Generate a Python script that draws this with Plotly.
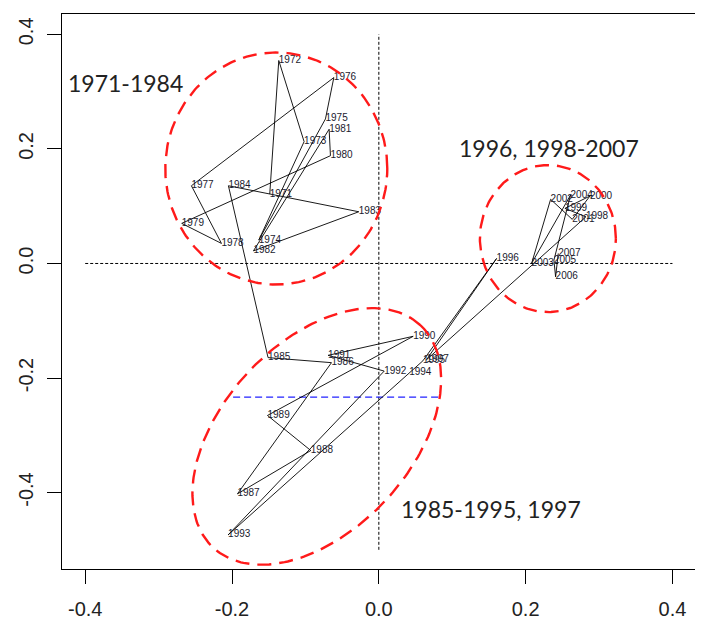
import numpy as np
import plotly.graph_objects as go

# ---- data ----
years = list(range(1971, 2008))
xs = [-0.1486, -0.1363, -0.1018, -0.1635, -0.0727, -0.0613, -0.2553, -0.2144, -0.2685, -0.0659,
      -0.0677, -0.1708, -0.0273, -0.2049,
      -0.1509, -0.0645, -0.1926, -0.0927, -0.1517, 0.0468, -0.0691, 0.0073, -0.2053, 0.0413,
      0.0600, 0.1604, 0.0650,
      0.2821, 0.2535, 0.2876, 0.2635, 0.2340, 0.2081, 0.2612, 0.2385, 0.2408, 0.2444]
ys = [0.1212, 0.3544, 0.2127, 0.0408, 0.2524, 0.3246, 0.1357, 0.0350, 0.0700, 0.1882,
      0.2344, 0.0220, 0.0903, 0.1357,
      -0.1644, -0.1732, -0.4023, -0.3266, -0.2654, -0.1272, -0.1604, -0.1879, -0.4740, -0.1907,
      -0.1700, 0.0087, -0.1680,
      0.0815, 0.0962, 0.1177, 0.0770, 0.1120, 0.0000, 0.1195, 0.0058, -0.0234, 0.0175]
year_labels = [str(y) for y in years]

x_ticks = [-0.4, -0.2, 0.0, 0.2, 0.4]
y_ticks = [-0.4, -0.2, 0.0, 0.2, 0.4]

group_labels = ["1971-1984", "1996, 1998-2007", "1985-1995, 1997"]
group_label_pos = [(-0.3448, 0.3154), (0.2317, 0.2017), (0.1533, -0.428)]

# ellipses: centre x, centre y, semi-axis a (px), semi-axis b (px), angle (deg, screen)
ellipses = [(-0.1397, 0.1658, 111, 116, 0),
            (0.2303, 0.0434, 68, 73.5, 0),
            (-0.0845, -0.302, 152, 94, 47)]

blue_y = -0.2333
blue_x = (-0.1985, 0.0808)

XR = [-0.4316, 0.4307]
YR = [-0.5335, 0.4356]
# page body has an 8px margin, so the figure is shifted by 8px
W, H = 695, 615
ML, MR, MT, MB = 54, 8, 6, 54
XS = (W - ML - MR) / (XR[1] - XR[0])  # px per unit
YS = (H - MT - MB) / (YR[1] - YR[0])

fig = go.Figure()

# crosshair
fig.add_trace(go.Scatter(x=[0, 0], y=[-0.5, 0.4], mode="lines",
                         line=dict(color="black", width=1, dash="3px,2px"), hoverinfo="skip"))
fig.add_trace(go.Scatter(x=[-0.4, 0.4], y=[0, 0], mode="lines",
                         line=dict(color="black", width=1, dash="3px,2px"), hoverinfo="skip"))
# blue dashed
fig.add_trace(go.Scatter(x=list(blue_x), y=[blue_y, blue_y], mode="lines",
                         line=dict(color="#2222ff", width=1.2, dash="7px,4px"), hoverinfo="skip"))

# path through years
fig.add_trace(go.Scatter(x=xs, y=ys, mode="lines+text", text=year_labels,
                         textposition="middle right",
                         textfont=dict(family="Liberation Sans, Arial", size=10, color="#1a1a2e"),
                         line=dict(color="black", width=0.9), hoverinfo="skip"))

# ellipses
t = np.linspace(0, 2 * np.pi, 240)
for cx, cy, a, b, ang in ellipses:
    ph = np.deg2rad(ang)
    ex = cx + (a * np.cos(t) * np.cos(ph) - b * np.sin(t) * np.sin(ph)) / XS
    ey = cy + (a * np.cos(t) * np.sin(ph) + b * np.sin(t) * np.cos(ph)) / YS
    fig.add_trace(go.Scatter(x=ex, y=ey, mode="lines",
                             line=dict(color="#ff1a1a", width=2.4, dash="14px,8px"),
                             hoverinfo="skip"))

for txt, (gx, gy) in zip(group_labels, group_label_pos):
    fig.add_annotation(x=gx, y=gy, text=txt, showarrow=False, xanchor="center", yanchor="middle",
                       font=dict(family="Lato", size=23, color="#222222"))

fig.update_layout(
    width=W, height=H, showlegend=False,
    margin=dict(l=ML, r=MR, t=MT, b=MB, autoexpand=False),
    paper_bgcolor="white", plot_bgcolor="white",
    font=dict(family="Liberation Sans, Arial", color="#222222"),
)
fig.update_xaxes(range=XR, tickvals=x_ticks, ticktext=["%.1f" % v for v in x_ticks],
                 showgrid=False, zeroline=False, showline=True, linecolor="black", linewidth=1,
                 mirror=True, ticks="outside", ticklen=14, tickcolor="black", automargin=False,
                 tickfont=dict(size=20), ticklabelstandoff=8)
fig.update_yaxes(range=YR, tickvals=y_ticks, ticktext=["%.1f" % v for v in y_ticks],
                 showgrid=False, zeroline=False, showline=True, linecolor="black", linewidth=1,
                 mirror=True, ticks="outside", ticklen=14, tickcolor="black", automargin=False,
                 tickfont=dict(size=20), tickangle=-90, ticklabelstandoff=6)

fig.write_html("out.html")
